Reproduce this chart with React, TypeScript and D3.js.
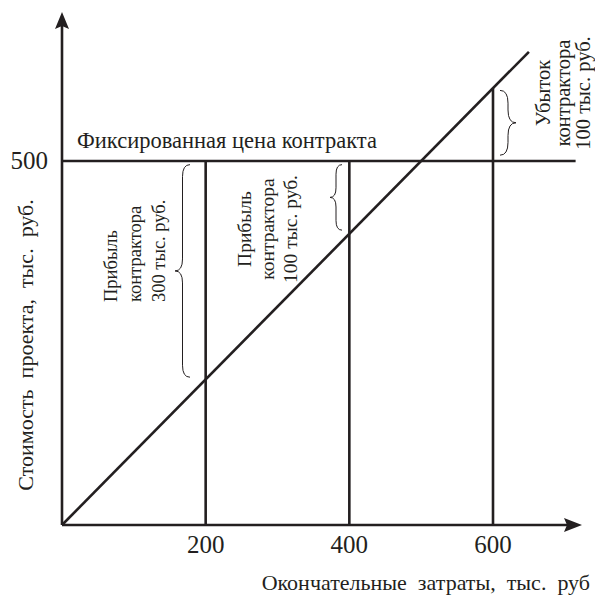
import React from "react";
import * as d3 from "d3";

const xTicks = [200, 400, 600];
const yTicks = [500];
const fixedPrice = 500;
const costLines = [200, 400, 600];
const diagonalMax = 650;
const horizontalEnd = 715;
const title = "Фиксированная цена контракта";
const xLabel = "Окончательные  затраты,  тыс.  руб";
const yLabel = "Стоимость  проекта,  тыс.  руб.";
const block1 = ["Прибыль", "контрактора", "300 тыс. руб."];
const block2 = ["Прибыль", "контрактора", "100 тыс. руб."];
const block3 = ["Убыток", "контрактора", "100 тыс. руб."];

const W = 595;
const H = 595;
const FONT = "'Liberation Serif', 'Times New Roman', serif";

function bracePath(xe: number, y1: number, y2: number, d: number) {
  // d>0 points left (tip at xe-d), d<0 points right
  const ym = (y1 + y2) / 2;
  const h = d / 2;
  const q = Math.min(Math.abs(d) * 0.8, (y2 - y1) / 4);
  return [
    `M${xe},${y1}`,
    `Q${xe - h},${y1} ${xe - h},${y1 + q}`,
    `L${xe - h},${ym - q}`,
    `Q${xe - h},${ym} ${xe - d},${ym}`,
    `Q${xe - h},${ym} ${xe - h},${ym + q}`,
    `L${xe - h},${y2 - q}`,
    `Q${xe - h},${y2} ${xe},${y2}`,
  ].join(" ");
}

export default function App() {
  const x = d3.scaleLinear().domain([0, 600]).range([62, 493]);
  const y = d3.scaleLinear().domain([0, 500]).range([525, 161]);
  const lw = 2.6;
  const diag = d3.line<number>().x((v) => x(v)).y((v) => y(v))([0, diagonalMax]) || "";

  return (
    <svg width={W} height={H} style={{ position: "absolute", left: 0, top: 0, background: "#fff" }} fontFamily={FONT}>
      <rect width={W} height={H} fill="#fff" />
      {/* axes */}
      <line x1={x(0)} y1={y(0)} x2={570} y2={y(0)} stroke="#231f20" strokeWidth={lw} />
      <path d={`M582,${y(0)} L564,${y(0) - 7} L567,${y(0)} L564,${y(0) + 7} Z`} fill="#231f20" />
      <line x1={x(0)} y1={y(0)} x2={x(0)} y2={25} stroke="#231f20" strokeWidth={lw} />
      <path d={`M${x(0)},12 L${x(0) - 7},29 L${x(0)},26 L${x(0) + 7},29 Z`} fill="#231f20" />

      {/* fixed price line */}
      <line x1={x(0)} y1={y(fixedPrice)} x2={x(horizontalEnd)} y2={y(fixedPrice)} stroke="#231f20" strokeWidth={lw} />
      {/* diagonal */}
      <path d={diag} stroke="#231f20" strokeWidth={lw} fill="none" />
      {/* vertical cost lines */}
      {costLines.map((c) => (
        <line key={c} x1={x(c)} y1={y(0)} x2={x(c)} y2={y(Math.max(c, fixedPrice))} stroke="#231f20" strokeWidth={lw} />
      ))}

      {/* tick labels */}
      {xTicks.map((t) => (
        <text key={t} x={x(t)} y={553} textAnchor="middle" fontSize={25} fill="#231f20">{t}</text>
      ))}
      {yTicks.map((t) => (
        <text key={t} x={48} y={y(t) + 8} textAnchor="end" fontSize={25} fill="#231f20">{t}</text>
      ))}

      <text x={77} y={148} fontSize={22.5} fill="#231f20">{title}</text>
      <text x={590} y={590} textAnchor="end" fontSize={22} fill="#231f20" style={{ whiteSpace: "pre" }}>{xLabel}</text>
      <text transform={`translate(33,345) rotate(-90)`} textAnchor="middle" fontSize={22} fill="#231f20" style={{ whiteSpace: "pre" }}>{yLabel}</text>

      {/* braces */}
      <path d={bracePath(190, y(495), y(203), 15)} stroke="#231f20" strokeWidth={1} fill="none" />
      <path d={bracePath(342, y(495), y(405), 12)} stroke="#231f20" strokeWidth={1} fill="none" />
      <path d={bracePath(500, y(597), y(508), -16)} stroke="#231f20" strokeWidth={1} fill="none" />

      {block1.map((s, i) => (
        <text key={"b1" + i} transform={`translate(${117 + i * 24},302) rotate(-90)`} fontSize={18.5} fill="#231f20">{s}</text>
      ))}
      {block2.map((s, i) => (
        <text key={"b2" + i} transform={`translate(${251 + i * 23},229) rotate(-90)`} textAnchor="middle" fontSize={19.5} fill="#231f20">{s}</text>
      ))}
      {block3.map((s, i) => (
        <text key={"b3" + i} transform={`translate(${550 + i * 20},93) rotate(-90)`} textAnchor="middle" fontSize={20.5} fill="#231f20">{s}</text>
      ))}
    </svg>
  );
}
